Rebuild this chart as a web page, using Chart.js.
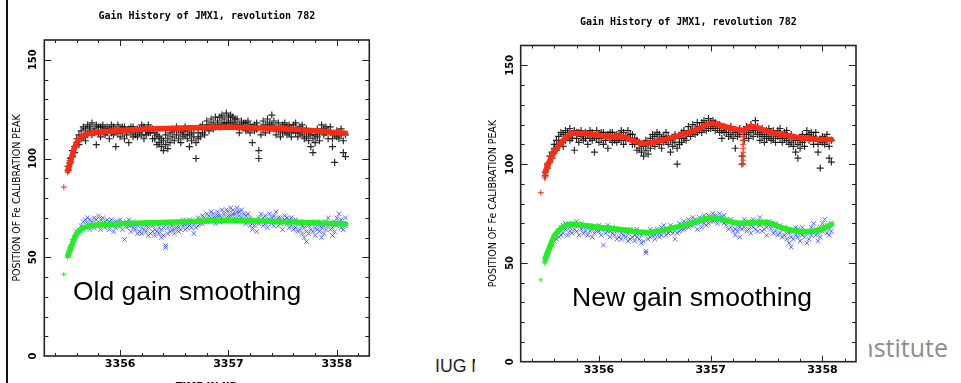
<!DOCTYPE html>
<html>
<head>
<meta charset="utf-8">
<script src="https://cdn.jsdelivr.net/npm/chart.js@4.4.1/dist/chart.umd.min.js"></script>
<style>
  html, body { margin: 0; padding: 0; background: #fff; }
  body { width: 961px; height: 383px; overflow: hidden; position: relative; font-family: 'Liberation Sans', Arial, sans-serif; }
  .abs { position: absolute; white-space: nowrap; }
  #rule { left: 6px; top: 0; width: 2px; height: 383px; background: #111; }
  #iug { left: 435px; top: 358px; font-size: 17.7px; line-height: 1; color: #222; }
  #inst { right: 13px; top: 335px; font-family: 'Open Sans', sans-serif; font-size: 25px; line-height: 1; color: #8c8c8c; }
  #leftBox { left: 10px; top: 0; width: 390px; height: 395px; }
  #rightBox { left: 475px; top: 0; width: 394px; height: 395px; background: #fff; }
  .note { font-size: 26.5px; line-height: 1; color: #000; }
</style>
</head>
<body>
<div class="abs" id="rule"></div>
<div class="abs" id="iug">IUG Meeting</div>
<div class="abs" id="inst">Institute</div>
<div class="abs" id="leftBox"><canvas id="oldChart" width="390" height="395"></canvas></div>
<div class="abs" id="rightBox"><canvas id="newChart" width="394" height="395"></canvas></div>
<div class="abs note" style="left:73px;top:278px">Old gain smoothing</div>
<div class="abs note" style="left:572px;top:284px">New gain smoothing</div>

<script>
// axis ranges and ticks
const xMin = 3355.3, xMax = 3358.3;
const yMin = 0, yMax = 160;
const xTickLabels = [3356, 3357, 3358];
const yTickLabels = [0, 50, 100, 150];
const xMinorTicks = [3355.4, 3355.6, 3355.8, 3356.0, 3356.2, 3356.4, 3356.6, 3356.8, 3357.0,
  3357.2, 3357.4, 3357.6, 3357.8, 3358.0, 3358.2];
const yMinorTicks = [10, 20, 30, 40, 50, 60, 70, 80, 90, 100, 110, 120, 130, 140, 150];

// measured peak positions (two samples per time bin)
const times = [
  3355.52, 3355.54, 3355.56, 3355.58, 3355.60, 3355.62, 3355.64, 3355.66, 3355.68, 3355.70,
  3355.72, 3355.74, 3355.76, 3355.78, 3355.80, 3355.82, 3355.84, 3355.86, 3355.88, 3355.90,
  3355.92, 3355.94, 3355.96, 3355.98, 3356.00, 3356.02, 3356.04, 3356.06, 3356.08, 3356.10,
  3356.12, 3356.14, 3356.16, 3356.18, 3356.20, 3356.22, 3356.24, 3356.26, 3356.28, 3356.30,
  3356.32, 3356.34, 3356.36, 3356.38, 3356.40, 3356.42, 3356.44, 3356.46, 3356.48, 3356.50,
  3356.52, 3356.54, 3356.56, 3356.58, 3356.60, 3356.62, 3356.64, 3356.66, 3356.68, 3356.70,
  3356.72, 3356.74, 3356.76, 3356.78, 3356.80, 3356.82, 3356.84, 3356.86, 3356.88, 3356.90,
  3356.92, 3356.94, 3356.96, 3356.98, 3357.00, 3357.02, 3357.04, 3357.06, 3357.08, 3357.10,
  3357.12, 3357.14, 3357.16, 3357.18, 3357.20, 3357.22, 3357.24, 3357.26, 3357.28, 3357.30,
  3357.32, 3357.34, 3357.36, 3357.38, 3357.40, 3357.42, 3357.44, 3357.46, 3357.48, 3357.50,
  3357.52, 3357.54, 3357.56, 3357.58, 3357.60, 3357.62, 3357.64, 3357.66, 3357.68, 3357.70,
  3357.72, 3357.74, 3357.76, 3357.78, 3357.80, 3357.82, 3357.84, 3357.86, 3357.88, 3357.90,
  3357.92, 3357.94, 3357.96, 3357.98, 3358.00, 3358.02, 3358.04, 3358.06, 3358.08
];
const upperA = [
  94, 98, 101, 106, 108, 112, 114, 116, 115, 117,
  114, 118, 115, 117, 113, 116, 114, 112, 116, 115,
  113, 116, 114, 117, 115, 113, 116, 112, 115, 113,
  116, 114, 111, 115, 112, 116, 114, 117, 113, 115,
  110, 112, 108, 106, 104, 107, 110, 113, 111, 114,
  112, 115, 113, 111, 116, 114, 112, 109, 115, 100,
  113, 111, 117, 115, 119, 117, 120, 118, 116, 119,
  121, 118, 120, 123, 121, 119, 121, 118, 120, 117,
  119, 116, 118, 115, 117, 116, 114, 118, 100, 116,
  119, 117, 116, 118, 122, 119, 116, 118, 115, 117,
  114, 116, 113, 115, 117, 118, 115, 113, 117, 114,
  111, 109, 106, 103, 112, 115, 113, 117, 115, 116,
  114, 113, 110, 98, 111, 113, 115, 109, 112
];
const upperB = [
  96, 100, 104, 103, 110, 107, 110, 111, 109, 112,
  116, 112, 113, 107, 116, 111, 117, 115, 113, 110,
  117, 112, 106, 113, 111, 116, 110, 114, 108, 116,
  111, 112, 115, 113, 117, 110, 112, 113, 115, 110,
  113, 107, 111, 110, 109, 112, 105, 108, 115, 109,
  116, 110, 108, 114, 112, 110, 106, 113, 111, 108,
  110, 116, 113, 112, 116, 114, 116, 115, 121, 117,
  116, 122, 117, 118, 118, 122, 117, 120, 116, 113,
  116, 118, 114, 119, 113, 108, 117, 115, 104, 112,
  115, 113, 120, 114, 117, 115, 112, 114, 111, 113,
  118, 112, 117, 111, 114, 113, 111, 116, 112, 110,
  115, 113, 112, 110, 108, 111, 109, 114, 112, 113,
  110, 116, 106, 112, 114, 110, 112, 103, 101
];
const lowerA = [
  51, 54, 57, 60, 61, 64, 66, 68, 69, 67,
  64, 68, 70, 67, 66, 69, 67, 65, 69, 68,
  66, 67, 65, 68, 66, 64, 67, 65, 69, 66,
  68, 64, 66, 63, 65, 67, 63, 65, 62, 66,
  64, 67, 62, 64, 61, 56, 65, 63, 66, 64,
  67, 65, 68, 66, 64, 67, 69, 65, 62, 68,
  66, 69, 67, 70, 68, 71, 69, 72, 70, 73,
  71, 74, 72, 70, 73, 71, 74, 72, 75, 73,
  70, 72, 71, 68, 70, 67, 69, 63, 70, 68,
  66, 71, 69, 72, 67, 71, 69, 66, 70, 68,
  71, 67, 69, 66, 68, 65, 67, 64, 62, 65,
  63, 66, 64, 67, 65, 68, 63, 60, 66, 64,
  70, 67, 65, 68, 66, 72, 69, 67, 70
];
const lowerB = [
  52, 55, 58, 59, 63, 62, 63, 64, 65, 70,
  69, 66, 65, 69, 71, 64, 70, 68, 66, 64,
  69, 63, 68, 66, 69, 67, 59, 68, 66, 63,
  65, 67, 62, 67, 62, 64, 66, 61, 67, 63,
  61, 63, 65, 60, 65, 55, 62, 67, 64, 62,
  65, 63, 64, 69, 67, 65, 66, 68, 67, 65,
  70, 67, 71, 68, 72, 69, 73, 70, 67, 71,
  68, 70, 69, 74, 71, 75, 72, 70, 73, 71,
  74, 69, 67, 72, 66, 64, 66, 68, 67, 72,
  70, 67, 65, 68, 70, 66, 73, 70, 67, 64,
  69, 70, 65, 70, 64, 69, 63, 68, 66, 60,
  58, 62, 68, 63, 61, 64, 66, 65, 62, 68,
  66, 64, 61, 63, 70, 68, 65, 64, 66
];

// old smoothing curves
const oldSmoothT = [3355.52, 3355.54, 3355.57, 3355.60, 3355.65, 3355.70, 3355.80, 3356.00,
  3356.50, 3357.00, 3357.30, 3357.60, 3357.90, 3358.08];
const oldRed = [94, 98, 104, 108, 111.3, 112.5, 113.3, 114.2, 115.3, 115.8, 115.5, 114.8, 113.6, 112.8];
const oldGreen = [51, 54, 58.5, 62, 64.5, 65.6, 66.3, 66.9, 67.8, 68.6, 68.4, 67.8, 67.2, 66.8];

// new smoothing curves
const newRedT = [3355.52, 3355.575, 3355.63, 3355.70, 3355.77, 3355.88, 3356.00, 3356.08, 3356.20,
  3356.30, 3356.40, 3356.55, 3356.73, 3356.88, 3357.02, 3357.12, 3357.20, 3357.29, 3357.36,
  3357.46, 3357.56, 3357.68, 3357.81, 3357.95, 3358.08];
const newRed = [96, 103.6, 108.5, 113, 115.6, 115.5, 114.6, 113.8, 114.0, 112.0, 110.4, 111.8,
  114.6, 117.5, 120.6, 119, 118, 117.1, 119.2, 117.5, 115.8, 114.5, 113.2, 112.6, 112.4];
const newGreenT = [3355.52, 3355.56, 3355.60, 3355.68, 3355.75, 3355.85, 3356.01, 3356.19, 3356.43,
  3356.67, 3356.85, 3357.00, 3357.15, 3357.27, 3357.40, 3357.48, 3357.66, 3357.84, 3357.99, 3358.08];
const newGreen = [52.3, 58, 63.5, 68.3, 69.5, 69, 67.9, 66.9, 65.4, 67.8, 70.5, 72.8, 71.2, 70,
  70.4, 70.5, 67.4, 65.7, 66.9, 69.5];

// individual fit points drawn as markers
const startT = [3355.515, 3355.52, 3355.525, 3355.53, 3355.535, 3355.54];
const redStart = [93, 94.5, 96, 97.5, 99, 100.5];
const greenStart = [50, 51, 52, 53, 54, 55];
const outlierT = [3355.48];
const redOutlier = [85.5];
const greenOutlier = [41.4];
const spikeT = [3357.29, 3357.29, 3357.29, 3357.29, 3357.29, 3357.29, 3357.29, 3357.29, 3357.29];
const spikeRed = [100, 102, 104, 106, 108, 110, 112, 114, 116];

const titleText = 'Gain History of JMX1, revolution 782';
const RED = '#ff2a12', GREEN = '#22ee22';

const pts = (xs, ys) => xs.map((x, i) => ({ x, y: ys[i] }));

const markers = (data, color, style, r, w = 1) => ({
  data, showLine: false, pointStyle: style, pointRadius: r,
  pointBorderColor: color, pointBackgroundColor: color, pointBorderWidth: w
});
const curve = (data, color) => ({
  data, showLine: true, borderColor: color, borderWidth: 5.5, pointRadius: 0,
  tension: 0.4, cubicInterpolationMode: 'monotone', borderCapStyle: 'round'
});

// closed frame with inward ticks on all four sides
const frameTicks = {
  id: 'frameTicks',
  afterDatasetsDraw(chart) {
    const { ctx, chartArea: a, scales: { x, y } } = chart;
    ctx.save();
    ctx.strokeStyle = '#222';
    ctx.lineWidth = 1;
    ctx.beginPath();
    yMinorTicks.forEach(v => {
      const p = Math.round(y.getPixelForValue(v)) + 0.5;
      const len = yTickLabels.includes(v) ? 7 : 4;
      ctx.moveTo(a.left, p); ctx.lineTo(a.left + len, p);
      ctx.moveTo(a.right, p); ctx.lineTo(a.right - len, p);
    });
    xMinorTicks.forEach(v => {
      const p = Math.round(x.getPixelForValue(v)) + 0.5;
      const len = xTickLabels.includes(v) ? 6 : 3;
      ctx.moveTo(p, a.top); ctx.lineTo(p, a.top + len);
      ctx.moveTo(p, a.bottom); ctx.lineTo(p, a.bottom - len);
    });
    ctx.stroke();
    ctx.lineWidth = 1.6;
    ctx.strokeRect(a.left, a.top, a.right - a.left, a.bottom - a.top);
    ctx.restore();
  }
};

Chart.defaults.color = '#000';

function makeChart(id, g, datasets) {
  return new Chart(document.getElementById(id), {
    type: 'scatter',
    data: { datasets },
    options: {
      responsive: false,
      animation: false,
      events: [],
      layout: { padding: { left: 0, right: g.padRight, top: 0, bottom: 0 } },
      plugins: {
        legend: { display: false },
        tooltip: { enabled: false },
        title: {
          display: true, text: titleText, fullSize: false, color: '#000',
          font: { family: "'DejaVu Sans Mono', monospace", size: 10, weight: 'bold' },
          padding: { top: g.titleTop, bottom: g.titleBottom }
        }
      },
      scales: {
        x: {
          type: 'linear', min: xMin, max: xMax,
          afterBuildTicks: s => { s.ticks = xTickLabels.map(v => ({ value: v })); },
          afterFit: s => { s.height = g.xHeight; },
          grid: { display: false, drawTicks: false },
          border: { display: false },
          ticks: {
            padding: g.xPad, maxRotation: 0, color: '#000',
            font: { family: "'DejaVu Sans', sans-serif", size: 11, weight: 'bold' },
            callback: v => String(v)
          },
          title: {
            display: true, text: 'TIME IN IJD', color: '#000',
            font: { family: "'DejaVu Sans', sans-serif", size: 10, weight: 'bold' },
            padding: { top: 0, bottom: g.xTitlePad }
          }
        },
        y: {
          min: yMin, max: yMax,
          afterBuildTicks: s => { s.ticks = yTickLabels.map(v => ({ value: v })); },
          afterFit: s => { s.width = g.yWidth; },
          grid: { display: false, drawTicks: false },
          border: { display: false },
          ticks: {
            padding: g.yPad, minRotation: 90, maxRotation: 90, crossAlign: 'center', color: '#000',
            font: { family: "'Liberation Sans Narrow', 'DejaVu Sans Condensed', sans-serif", size: 11, weight: 'bold' },
            callback: v => String(v)
          },
          title: {
            display: true, text: 'POSITION OF Fe CALIBRATION PEAK', color: '#000',
            font: { family: "'Liberation Sans Narrow', 'DejaVu Sans Condensed', sans-serif", size: 10.5 },
            padding: { top: g.yTitlePad, bottom: 0 }
          }
        }
      }
    },
    plugins: [frameTicks]
  });
}

const measured = [
  markers(pts(times, upperA), 'rgba(0,0,0,0.85)', 'cross', 3.5, 1.2),
  markers(pts(times, upperB), 'rgba(0,0,0,0.85)', 'cross', 3.5, 1.2),
  markers(pts(times, lowerA), 'rgba(35,60,255,0.75)', 'crossRot', 3.2),
  markers(pts(times, lowerB), 'rgba(35,60,255,0.75)', 'crossRot', 3.2)
];

makeChart('oldChart',
  { padRight: 30.7, yWidth: 34.3, xHeight: 39, titleTop: 10, titleBottom: 18, xPad: 2, yPad: 1, yTitlePad: 0.5, xTitlePad: 2 },
  [
    curve(pts(oldSmoothT, oldRed), RED),
    curve(pts(oldSmoothT, oldGreen), GREEN),
    markers(pts(startT, redStart), RED, 'cross', 3),
    markers(pts(startT, greenStart), GREEN, 'cross', 3),
    markers(pts(outlierT, redOutlier), RED, 'cross', 3),
    markers(pts(outlierT, greenOutlier), GREEN, 'cross', 2.5),
    ...measured
  ]);

makeChart('newChart',
  { padRight: 13, yWidth: 45.7, xHeight: 33.3, titleTop: 16, titleBottom: 17.5, xPad: 2, yPad: 0, yTitlePad: 11.5, xTitlePad: 0 },
  [
    curve(pts(newRedT, newRed), RED),
    curve(pts(newGreenT, newGreen), GREEN),
    markers(pts(startT, redStart), RED, 'cross', 3),
    markers(pts(startT, greenStart), GREEN, 'cross', 3),
    markers(pts(outlierT, redOutlier), RED, 'cross', 3),
    markers(pts(outlierT, greenOutlier), GREEN, 'cross', 2.5),
    markers(pts(spikeT, spikeRed), RED, 'cross', 3),
    ...measured
  ]);
</script>
</body>
</html>
